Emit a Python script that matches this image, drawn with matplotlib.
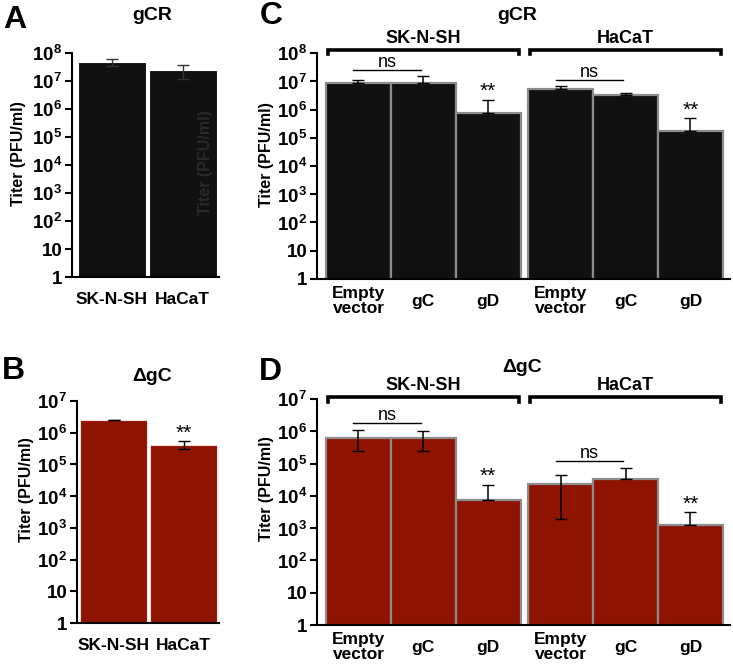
import matplotlib
matplotlib.use('Agg')
import matplotlib.pyplot as plt
import matplotlib.transforms as mtransforms
import numpy as np

plt.rcParams['font.family'] = ['Liberation Sans', 'DejaVu Sans']
plt.rcParams['font.weight'] = 'bold'
plt.rcParams['mathtext.fontset'] = 'custom'
plt.rcParams['mathtext.rm'] = 'Liberation Sans:bold'
plt.rcParams['mathtext.bf'] = 'Liberation Sans:bold'

# panel A: gCR in two cell lines
a_cells = ['SK-N-SH', 'HaCaT']
a_titer = [4.8e7, 2.5e7]
a_err = [1.3e7, 1.3e7]

# panel B: delta gC in two cell lines
b_cells = ['SK-N-SH', 'HaCaT']
b_titer = [2.5e6, 4.2e5]
b_err = [0.4e5, 1.2e5]
b_sig = ['', '**']

# panels C/D: transfected constructs per cell line
groups = ['SK-N-SH', 'HaCaT']
constructs = ['Empty\nvector', 'gC', 'gD']

c_titer = [8.7e6, 8.7e6, 7.4e5, 5.2e6, 3.3e6, 1.7e5]
c_err_lo = [0, 0, 0, 0, 0, 0]
c_err_hi = [2.3e6, 6.3e6, 1.46e6, 1.6e6, 0.5e6, 3.2e5]
c_sig = ['', '', '**', '', '', '**']

d_titer = [6.3e5, 6.3e5, 7.4e3, 2.3e4, 3.3e4, 1.26e3]
d_err_lo = [3.8e5, 3.9e5, 0, 2.11e4, 0, 0]
d_err_hi = [4.7e5, 4.2e5, 1.46e4, 2.1e4, 3.9e4, 1.9e3]
d_sig = ['', '', '**', '', '', '**']

BLACK = '#111111'
RED = '#8e1300'
W, H = 733, 666

fig = plt.figure(figsize=(W / 100, H / 100), dpi=100)


def box(l, t, r, b):
    return fig.add_axes([l / W, 1 - b / H, (r - l) / W, (b - t) / H])


def log_axis(ax, top):
    ax.set_yscale('log')
    ax.set_ylim(1, 10 ** top)
    ticks = [10 ** k for k in range(top + 1)]
    labels = ['1', '10'] + [r'$10^{%d}$' % k for k in range(2, top + 1)]
    ax.set_yticks(ticks)
    ax.set_yticklabels(labels, fontsize=13.5)
    ax.yaxis.set_minor_locator(matplotlib.ticker.NullLocator())
    for s in ['top', 'right']:
        ax.spines[s].set_visible(False)
    for s in ['left', 'bottom']:
        ax.spines[s].set_linewidth(1.5)
    ax.tick_params(axis='y', length=5, width=1.5, pad=2)
    ax.tick_params(axis='x', length=0, pad=16, labelsize=12.5)
    for lab in ax.get_xticklabels():
        lab.set_va('center')
        lab.set_linespacing(1.0)


def fig_text(x, y, s, **kw):
    fig.text(x / W, 1 - y / H, s, ha='center', va='center', **kw)


# ---- A ----
axA = box(72, 53, 219, 277)
xa = np.arange(len(a_cells))
axA.bar(xa, a_titer, width=0.96, color=BLACK, edgecolor='white', linewidth=0.8)
axA.errorbar(xa, a_titer, yerr=a_err, fmt='none', ecolor='#333333', elinewidth=1, capsize=4)
axA.set_xlim(-0.56, 1.51)
axA.set_xticks(xa)
axA.set_xticklabels(a_cells)
log_axis(axA, 8)
axA.text(0.91, 0.51, 'Titer (PFU/ml)', transform=axA.transAxes, rotation=90,
         ha='center', va='center', fontsize=11.5, color='#2a2a2a')

# ---- B ----
axB = box(77, 401, 219, 623)
xb = np.arange(len(b_cells))
axB.bar(xb, b_titer, width=0.96, color=RED, edgecolor='#f2e0dc', linewidth=0.8)
axB.errorbar(xb, b_titer, yerr=b_err, fmt='none', ecolor='black', elinewidth=1, capsize=4)
for x, v, e, s in zip(xb, b_titer, b_err, b_sig):
    if s:
        axB.annotate(s, (x, v + e), xytext=(0, -1), textcoords='offset points',
                     ha='center', va='bottom', fontsize=15, fontweight='normal')
axB.set_xlim(-0.53, 1.51)
axB.set_xticks(xb)
axB.set_xticklabels(b_cells)
log_axis(axB, 7)


# ---- C / D ----
def grouped(ax, titer, lo, hi, sig, color, top, ns_pairs, brk):
    pos = np.array([i + 0.12 * (i // 3) for i in range(len(titer))])
    ax.bar(pos, titer, width=1.0, color=color, edgecolor='#8c8c8c', linewidth=1.6)
    ax.errorbar(pos, titer, yerr=[lo, hi], fmt='none', ecolor='black', elinewidth=1.1, capsize=4)
    tops = np.array(titer) + np.array(hi)
    for x, t, s in zip(pos, tops, sig):
        if s:
            ax.annotate(s, (x, t), xytext=(0, -1), textcoords='offset points',
                        ha='center', va='bottom', fontsize=15, fontweight='normal')
    for i, j in ns_pairs:
        y = max(tops[i], tops[j]) * 10 ** 0.22
        ax.plot([pos[i] - 0.08, pos[j] - 0.04], [y, y], color='black', lw=1)
        ax.annotate('ns', ((pos[i] + pos[j]) / 2 - 0.06, y), xytext=(0, -1),
                    textcoords='offset points', ha='center', va='bottom',
                    fontsize=13, fontweight='normal')
    tr = mtransforms.blended_transform_factory(ax.transData, ax.transAxes)
    for g, name in enumerate(groups):
        x0 = pos[g * 3] - 0.47
        x1 = pos[g * 3 + 2] + 0.47
        yh, yl = brk
        ax.plot([x0, x0, x1, x1], [yl, yh, yh, yl], color='black', lw=2.6,
                transform=tr, clip_on=False, solid_joinstyle='miter')
        ax.text((x0 + x1) / 2, yh + 0.05, name, transform=tr, ha='center',
                va='center', fontsize=13)
    ax.set_xlim(-0.64, 5.73)
    ax.set_xticks(pos)
    ax.set_xticklabels(constructs * len(groups))
    log_axis(ax, top)


axC = box(317, 53, 730, 279)
grouped(axC, c_titer, c_err_lo, c_err_hi, c_sig, BLACK, 8, [(0, 1), (3, 4)], (1.015, 0.995))

axD = box(317, 399, 730, 625)
grouped(axD, d_titer, d_err_lo, d_err_hi, d_sig, RED, 7, [(0, 1), (3, 4)], (1.009, 0.987))

# titles, panel letters, y labels
fig_text(152, 16, 'gCR', fontsize=14)
fig_text(152, 377, '\u0394gC', fontsize=14)
fig_text(517, 15, 'gCR', fontsize=14)
fig_text(522, 367, '\u0394gC', fontsize=14)

fig_text(15, 20, 'A', fontsize=23)
fig_text(13, 371, 'B', fontsize=23)
fig_text(271, 16, 'C', fontsize=23)
fig_text(270, 372, 'D', fontsize=23)

for x, y in [(19, 154), (26, 490), (267, 155), (267, 489)]:
    fig_text(x, y, 'Titer (PFU/ml)', fontsize=11.5, rotation=90)

fig.savefig('out.png', dpi=100)
